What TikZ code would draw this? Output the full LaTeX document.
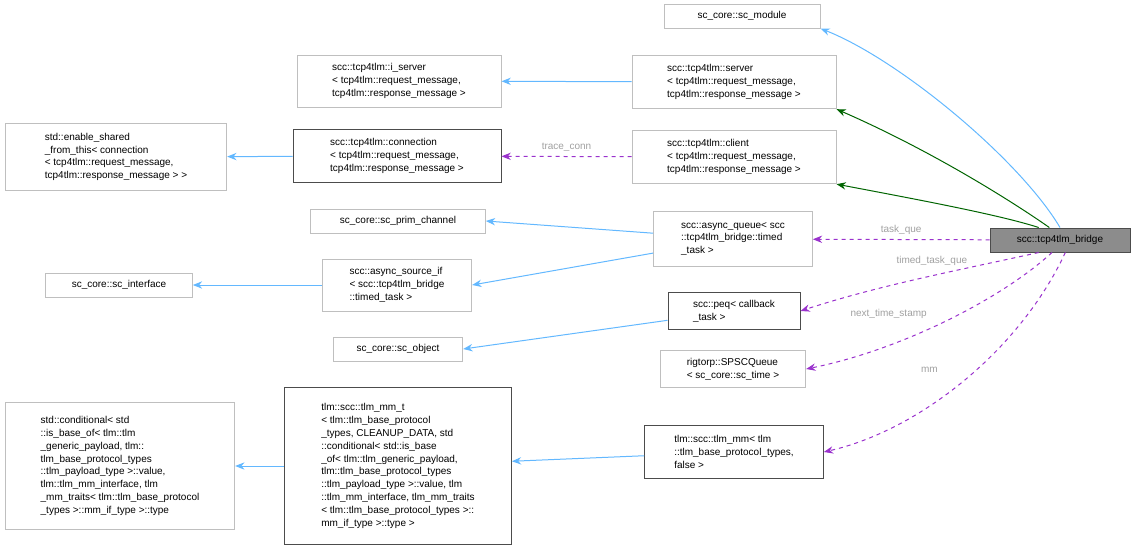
\documentclass[tikz,border=0pt]{standalone}
\usepackage{fontspec}
\setmainfont{Liberation Sans}
\usetikzlibrary{arrows.meta}
\definecolor{inhblue}{RGB}{99,184,255}
\definecolor{usegreen}{RGB}{0,100,0}
\definecolor{usepurple}{RGB}{154,50,205}
\definecolor{boxgray}{RGB}{191,191,191}
\definecolor{labgray}{RGB}{160,160,160}
\tikzset{
  every picture/.style={line width=0.75pt},
  cls/.style={draw=boxgray, align=left, inner sep=2pt, font=\fontsize{7.5}{9.6}\selectfont},
  doc/.style={cls, draw=black!70},
  cur/.style={cls, draw=black!70, fill=black!45},
  inh/.style={draw=inhblue, -{Stealth[length=7pt,width=5.5pt]}},
  pub/.style={draw=usegreen, -{Stealth[length=7pt,width=5.5pt]}},
  mem/.style={draw=usepurple, dashed, -{Stealth[length=7pt,width=5.5pt]}},
  lbl/.style={text=labgray, font=\fontsize{7.5}{9}\selectfont}
}
\begin{document}
\begin{tikzpicture}[x=0.75pt,y=0.75pt,yscale=-1,xscale=1]
	\useasboundingbox (0,0) rectangle (1135,550);

	% Nodes
	\node[cls, minimum width=117pt, minimum height=18pt] (module) at (742,16) {sc\_core::sc\_module};
	\node[cls, minimum width=153pt, minimum height=40pt] (server) at (734,82) {scc::tcp4tlm::server\\\hspace*{0pt}< tcp4tlm::request\_message,\\ tcp4tlm::response\_message >};
	\node[cls, minimum width=153pt, minimum height=39pt] (iserver) at (399,81) {scc::tcp4tlm::i\_server\\\hspace*{0pt}< tcp4tlm::request\_message,\\ tcp4tlm::response\_message >};
	\node[cls, minimum width=166pt, minimum height=50pt] (shared) at (116,157) {std::enable\_shared\\\_from\_this< connection\\\hspace*{0pt}< tcp4tlm::request\_message,\\ tcp4tlm::response\_message > >};
	\node[doc, minimum width=156pt, minimum height=40pt] (conn) at (397,156) {scc::tcp4tlm::connection\\\hspace*{0pt}< tcp4tlm::request\_message,\\ tcp4tlm::response\_message >};
	\node[cls, minimum width=153pt, minimum height=40pt] (client) at (734,157) {scc::tcp4tlm::client\\\hspace*{0pt}< tcp4tlm::request\_message,\\ tcp4tlm::response\_message >};
	\node[cur, minimum width=105pt, minimum height=18pt] (bridge) at (1060,240) {scc::tcp4tlm\_bridge};
	\node[cls, minimum width=131pt, minimum height=18pt] (prim) at (398,221) {sc\_core::sc\_prim\_channel};
	\node[cls, minimum width=119pt, minimum height=41pt] (queue) at (733,239) {scc::async\_queue< scc\\::tcp4tlm\_bridge::timed\\\_task >};
	\node[cls, minimum width=112pt, minimum height=39pt] (source) at (397,285) {scc::async\_source\_if\\\hspace*{0pt}< scc::tcp4tlm\_bridge\\::timed\_task >};
	\node[cls, minimum width=110pt, minimum height=18pt] (iface) at (119,285) {sc\_core::sc\_interface};
	\node[doc, minimum width=99pt, minimum height=28pt] (peq) at (734,311) {scc::peq< callback\\\_task >};
	\node[cls, minimum width=97pt, minimum height=18pt] (object) at (398,349) {sc\_core::sc\_object};
	\node[cls, minimum width=109pt, minimum height=28pt] (spsc) at (733,369) {rigtorp::SPSCQueue\\\hspace*{0pt}< sc\_core::sc\_time >};
	\node[cls, minimum width=172pt, minimum height=95pt] (cond) at (120,466) {std::conditional< std\\::is\_base\_of< tlm::tlm\\\_generic\_payload, tlm::\\tlm\_base\_protocol\_types\\::tlm\_payload\_type >::value,\\ tlm::tlm\_mm\_interface, tlm\\\_mm\_traits< tlm::tlm\_base\_protocol\\\_types >::mm\_if\_type >::type};
	\node[doc, minimum width=170pt, minimum height=118pt] (mmt) at (398,466) {tlm::scc::tlm\_mm\_t\\\hspace*{0pt}< tlm::tlm\_base\_protocol\\\_types, CLEANUP\_DATA, std\\::conditional< std::is\_base\\\_of< tlm::tlm\_generic\_payload,\\ tlm::tlm\_base\_protocol\_types\\::tlm\_payload\_type >::value, tlm\\::tlm\_mm\_interface, tlm\_mm\_traits\\\hspace*{0pt}< tlm::tlm\_base\_protocol\_types >::\\mm\_if\_type >::type >};
	\node[doc, minimum width=134pt, minimum height=40pt] (mm) at (734,452) {tlm::scc::tlm\_mm< tlm\\::tlm\_base\_protocol\_types,\\ false >};

	% Inheritance
	\draw[inh] (bridge.north) .. controls (1020,160) and (900,60) .. (module.south east);
	\draw[inh] (server) -- (iserver);
	\draw[inh] (conn) -- (shared);
	\draw[inh] (queue) -- (prim.east);
	\draw[inh] (queue) -- (source.east);
	\draw[inh] (source) -- (iface);
	\draw[inh] (peq) -- (object.east);
	\draw[inh] (mm) -- (mmt);
	\draw[inh] (mmt) -- (cond);

	% Public members
	\draw[pub] ([xshift=-8pt]bridge.north) .. controls (1010,200) and (930,150) .. (server.south east);
	\draw[pub] ([xshift=-16pt]bridge.north) .. controls (1000,215) and (920,200) .. (client.south east);

	% Members
	\draw[mem] (client) -- node[lbl, above] {trace\_conn} (conn);
	\draw[mem] (bridge) -- node[lbl, above] {task\_que} (queue);
	\draw[mem] ([xshift=-16pt]bridge.south) .. controls (960,270) and (880,285) .. node[lbl, pos=0.45, above, yshift=4pt] {timed\_task\_que} (peq.east);
	\draw[mem] ([xshift=-6pt]bridge.south) .. controls (1000,300) and (900,350) .. node[lbl, pos=0.55, above left, yshift=3pt] {next\_time\_stamp} (spsc.east);
	\draw[mem] ([xshift=4pt]bridge.south) .. controls (1020,350) and (920,430) .. node[lbl, pos=0.55, above left, xshift=-6pt, yshift=10pt] {mm} (mm.east);
\end{tikzpicture}
\end{document}
